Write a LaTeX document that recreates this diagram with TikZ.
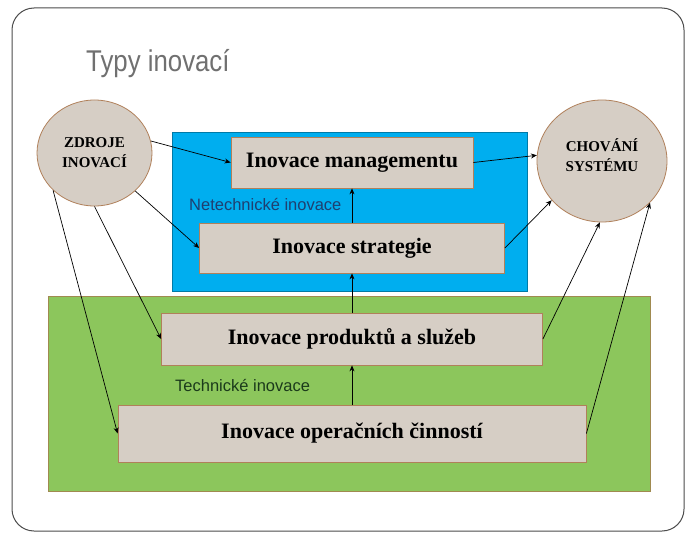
\documentclass[tikz,border=0pt]{standalone}
\usepackage{fontspec}
\setmainfont{Liberation Serif}
\setsansfont{Liberation Sans}
\usetikzlibrary{shapes.geometric,arrows.meta}
\definecolor{boxfill}{HTML}{D6CEC5}
\definecolor{boxline}{HTML}{B0805A}
\definecolor{netblue}{HTML}{00AEEF}
\definecolor{techgreen}{HTML}{8CC65C}
\definecolor{greenline}{HTML}{A08A50}
\definecolor{navytext}{HTML}{1F3F70}
\definecolor{greentext}{HTML}{1B3A1B}
\definecolor{titlegrey}{HTML}{707070}
\tikzset{
  inobox/.style={draw=boxline, fill=boxfill, line width=0.8pt, inner sep=0pt,
    font=\fontsize{22}{26}\selectfont\bfseries},
  inoball/.style={ellipse, draw=boxline, fill=boxfill, line width=0.8pt, inner sep=0pt,
    align=center, font=\fontsize{15}{20}\selectfont\bfseries},
  balltext/.style={align=center, inner sep=0pt, font=\fontsize{15}{20}\selectfont\bfseries},
  arr/.style={-{Stealth[length=6pt,width=5pt]}, line width=0.7pt},
  grouplabel/.style={font=\sffamily\fontsize{16.5}{18}\selectfont, inner sep=0pt}
}
\begin{document}
\begin{tikzpicture}[x=1pt, y=-1pt]
\useasboundingbox (0,0) rectangle (689,535);
%\draw [help lines, step=50] (0,0) grid (689,535);
\draw [line width=1pt, draw=black!70, fill=white, rounded corners=22pt] (12,8) rectangle (684,531);
\node [anchor=base west, inner sep=0pt, text=titlegrey, font=\sffamily\fontsize{30}{34}\selectfont] (title) at (86,72) {\scalebox{0.86}[1]{Typy inovací}};
% groups
\draw [fill=netblue, draw=netblue!70!black, line width=0.6pt] (172,132) rectangle (527,291);
\draw [fill=techgreen, draw=greenline, line width=0.8pt] (48,296) rectangle (650,491);
\node [grouplabel, anchor=west, text=navytext] (netlab) at (189,205) {Netechnické inovace};
\node [grouplabel, anchor=west, text=greentext] (techlab) at (175,386) {Technické inovace};
% boxes
\node [inobox, minimum width=242pt, minimum height=51pt] (mgmt) at (352,162.5) {Inovace managementu};
\node [inobox, minimum width=305pt, minimum height=50pt] (strat) at (352,248) {Inovace strategie};
\node [inobox, minimum width=381pt, minimum height=52pt] (prod) at (352,339) {Inovace produktů a služeb};
\node [inobox, minimum width=468pt, minimum height=57pt] (oper) at (352,433.5) {Inovace operačních činností};
% circles
\node [inoball, minimum width=115pt, minimum height=106pt] (src) at (94.5,153) {ZDROJE\\INOVACÍ};
\node [inoball, minimum width=130pt, minimum height=122pt,
  label={[balltext, yshift=6pt]center:CHOVÁNÍ\\SYSTÉMU}] (sys) at (602,161) {};
% arrows
\draw [arr] (src.12) -- (mgmt.west);
\draw [arr] (src.-43) -- (strat.west);
\draw [arr] (src.-90) -- (prod.west);
\draw [arr] (src.-138) -- (oper.west);
\draw [arr] (mgmt.east) -- (sys.175);
\draw [arr] (strat.east) -- (sys.-142);
\draw [arr] (prod.east) -- (sys.-92);
\draw [arr] (oper.east) -- (sys.-41);
\draw [arr] (strat) -- (mgmt);
\draw [arr] (prod) -- (strat);
\draw [arr] (oper) -- (prod);
\end{tikzpicture}
\end{document}
